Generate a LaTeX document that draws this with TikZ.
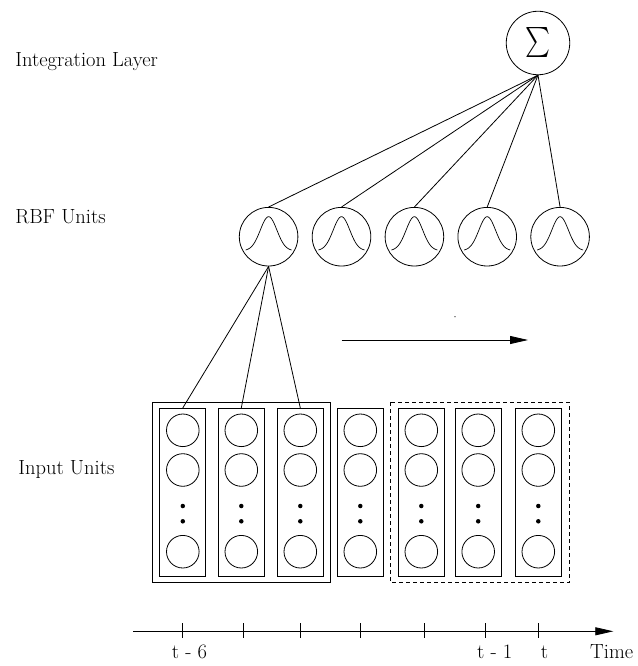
\documentclass[tikz,border=0pt]{standalone}
\usetikzlibrary{arrows.meta}
\begin{document}
\begin{tikzpicture}[x=1pt,y=-1pt,
  line width=0.8pt,
  lbl/.style={anchor=base west,inner sep=0pt,font=\fontsize{20.5}{24}\selectfont},
  tlbl/.style={anchor=base,inner sep=0pt,font=\fontsize{20.5}{24}\selectfont},
  rbf/.style={circle,draw,minimum size=58.6pt,inner sep=0pt},
  sumnode/.style={circle,draw,minimum size=63.5pt,inner sep=0pt},
  colbox/.style={draw,minimum width=46pt,minimum height=168.4pt,inner sep=0pt},
  unit/.style={circle,draw,minimum size=32.6pt,inner sep=0pt},
  dotnode/.style={circle,fill,minimum size=4.5pt,inner sep=0pt},
  tickmark/.style={line width=0.8pt},
  arr/.style={-{Triangle[length=18pt,width=8pt]}}
]
\useasboundingbox (0,0) rectangle (637,666);

% labels
\node[lbl] (lint) at (15,66.5) {Integration Layer};
\node[lbl] (lrbf) at (15,223.5) {RBF Units};
\node[lbl] (linp) at (18,474.5) {Input Units};

% sum node
\node[sumnode] (sum) at (538,43) {};
\node[inner sep=0pt] (sumsym) at (sum.center) {\resizebox*{25pt}{30pt}{$\sum$}};

% RBF units
\foreach \i/\cx in {1/268.6,2/341.5,3/414.4,4/487.2,5/560.1}{
  \node[rbf] (r\i) at (\cx,236.7) {};
  \draw[line width=0.7pt] plot[variable=\t,domain=-23:23,samples=60,smooth]
    ({\cx+\t}, {250.7-34*exp(-(\t/8.3)^2/2)});
  \draw (sum.south) -- (r\i.north);
}

% input columns
\foreach \j/\cx in {1/182.8,2/241.3,3/300.3,4/360.3,5/421.3,6/478.2,7/538.3}{
  \node[colbox] (c\j) at (\cx,492.5) {};
  \node[unit] (u\j a) at (\cx,430.3) {};
  \node[unit] (u\j b) at (\cx,470) {};
  \node[unit] (u\j c) at (\cx,551.7) {};
  \node[dotnode] (d\j a) at (\cx,506) {};
  \node[dotnode] (d\j b) at (\cx,521.3) {};
}

% group boxes
\draw (152.3,402.3) rectangle (330.7,582.7);
\draw[dash pattern=on 4pt off 3pt] (390.7,402.3) rectangle (569.3,582.7);

% RBF 1 connections
\foreach \j in {1,2,3}{
  \draw (r1.south) -- (c\j.north);
}

% middle arrow
\coordinate (ma) at (341.7,340);
\coordinate (mb) at (528,340);
\draw[arr] (ma) -- (mb);
\fill (455,316.7) circle (0.6pt);

% time axis
\coordinate (ta) at (133.3,631.3);
\coordinate (tb) at (613.3,631.3);
\draw[arr] (ta) -- (tb);
\foreach \k/\tx in {1/182.7,2/243.3,3/300,4/360,5/424.3,6/485.7,7/538.3}{
  \coordinate (tk\k) at (\tx,623.3);
  \draw[tickmark] (tk\k) -- ++(0,15);
}
\node[tlbl] (t6) at (189.5,658.3) {t - 6};
\node[tlbl] (t1) at (494.7,658.3) {t - 1};
\node[tlbl] (t0) at (544.5,658.3) {t};
\node[tlbl] (time) at (611.7,658.3) {Time};
\end{tikzpicture}
\end{document}
